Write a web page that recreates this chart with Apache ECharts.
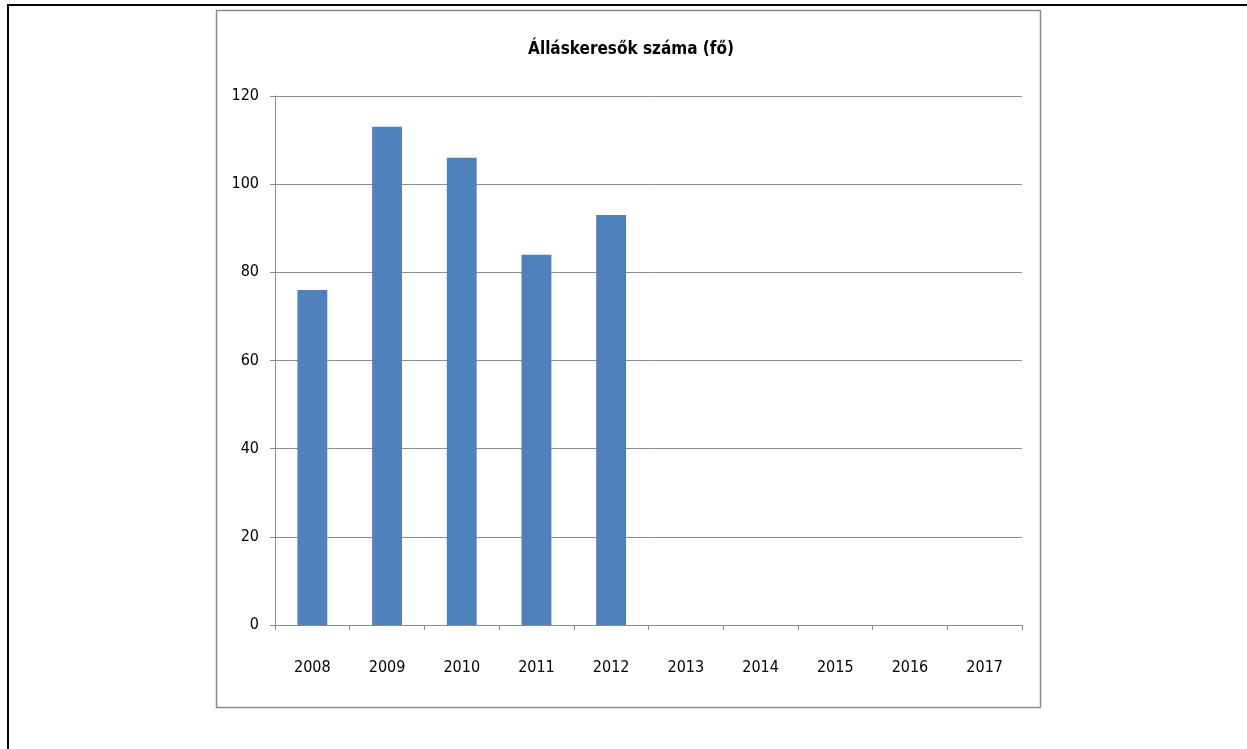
<!DOCTYPE html>
<html><head><meta charset="utf-8">
<script src="https://cdn.jsdelivr.net/npm/echarts@6/dist/echarts.min.js"></script>
<style>html,body{margin:0;padding:0;background:#fff}#c{width:1247px;height:749px}</style>
</head><body><div id="c"></div>
<script>
const title = 'Álláskeresők száma (fő)';
const years = ['2008','2009','2010','2011','2012','2013','2014','2015','2016','2017'];
const jobseekers = [76, 113, 106, 84, 93, null, null, null, null, null];
const yTicks = [0, 20, 40, 60, 80, 100, 120];

const FONT = '"DejaVu Sans Condensed", "Liberation Sans Narrow", sans-serif';
const chart = echarts.init(document.getElementById('c'), null, {renderer: 'canvas'});
chart.setOption({
  animation: false,
  backgroundColor: '#fff',
  title: {
    text: title, left: 626, top: 36, textAlign: 'center',
    textStyle: {fontFamily: FONT, fontWeight: 'bold', fontSize: 17, color: '#000'}
  },
  graphic: [
    {type: 'polyline', shape: {points: [[8, 749], [8, 5], [1247, 5]]}, style: {stroke: '#000', lineWidth: 2, fill: null}},
    {type: 'rect', shape: {x: 216.5, y: 10.5, width: 824, height: 697}, style: {stroke: '#8c8c8c', lineWidth: 1.5, fill: null}}
  ],
  grid: {left: 275, right: 225, top: 96, bottom: 124, containLabel: false},
  xAxis: {
    type: 'category', data: years, boundaryGap: true,
    axisLine: {lineStyle: {color: '#8c8c8c', width: 1}},
    axisTick: {show: true, alignWithLabel: false, length: 5, lineStyle: {color: '#8c8c8c'}},
    axisLabel: {fontFamily: FONT, fontSize: 16, color: '#000', margin: 35}
  },
  yAxis: {
    type: 'value', min: yTicks[0], max: yTicks[yTicks.length - 1], interval: 20,
    axisLine: {show: true, lineStyle: {color: '#8c8c8c', width: 1}},
    axisTick: {show: true, length: 5, lineStyle: {color: '#8c8c8c'}},
    splitLine: {show: true, lineStyle: {color: '#8c8c8c', width: 1}},
    axisLabel: {fontFamily: FONT, fontSize: 16, color: '#000', margin: 16}
  },
  series: [{
    type: 'bar', data: jobseekers, barWidth: '40%',
    itemStyle: {color: '#4f81bd'}
  }]
});
</script>
</body></html>
